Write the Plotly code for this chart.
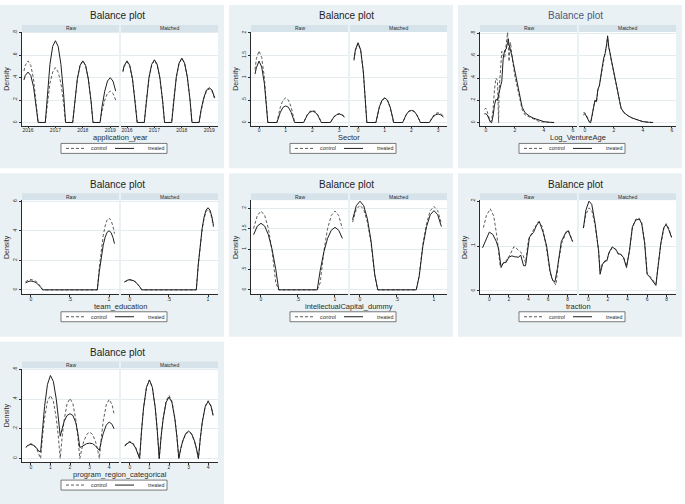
import plotly.graph_objects as go

W, H = 685, 504
FONT = "Liberation Sans, Arial, Helvetica, sans-serif"
PANEL_BG = "#EAF1F4"
STRIP_BG = "#D6E3EA"
GRID = "#E4ECF0"
INK = "#2b2b2b"

# ---------------- data ----------------
# application_year
year_x = [2015.85, 2015.9, 2016.0, 2016.1, 2016.2, 2016.3, 2016.37,
          2016.63, 2016.7, 2016.8, 2016.9, 2017.0, 2017.1, 2017.2, 2017.3, 2017.37,
          2017.63, 2017.7, 2017.8, 2017.9, 2018.0, 2018.1, 2018.2, 2018.3, 2018.37,
          2018.63, 2018.7, 2018.8, 2018.9, 2019.0, 2019.1, 2019.2]
year_raw_control = [.46, .51, .55, .51, .39, .19, 0, 0, .17, .35, .45, .49, .45, .35, .17, 0,
                    0, .19, .39, .51, .55, .51, .39, .19, 0, 0, .10, .20, .26, .28, .26, .20]
year_raw_treated = [.38, .42, .45, .42, .32, .15, 0, 0, .25, .52, .68, .73, .68, .52, .25, 0,
                    0, .19, .39, .51, .55, .51, .39, .19, 0, 0, .14, .28, .37, .40, .37, .28]
year_m_control = [.45, .50, .54, .50, .38, .19, 0, 0, .19, .39, .51, .555, .51, .39, .19, 0,
                  0, .20, .40, .53, .57, .53, .40, .20, 0, 0, .10, .21, .28, .30, .28, .21]
year_m_treated = [.46, .51, .55, .51, .39, .19, 0, 0, .19, .40, .52, .56, .52, .40, .19, 0,
                  0, .20, .41, .53, .575, .53, .41, .20, 0, 0, .11, .22, .29, .31, .29, .22]

# Sector
sector_x = [-0.15, -0.1, 0, 0.1, 0.2, 0.3, 0.33, 0.67, 0.7, 0.8, 0.9, 1.0, 1.1, 1.2, 1.3, 1.33,
            1.67, 1.7, 1.8, 1.9, 2.0, 2.1, 2.2, 2.3, 2.33, 2.67, 2.7, 2.8, 2.9, 3.0, 3.1, 3.2]
sector_raw_control = [1.18, 1.42, 1.6, 1.45, 1.01, .28, 0, 0, .10, .35, .50, .55, .50, .35, .10, 0,
                      0, .05, .17, .25, .27, .25, .17, .05, 0, 0, .03, .13, .18, .20, .18, .13]
sector_raw_treated = [1.08, 1.22, 1.37, 1.24, .87, .24, 0, 0, .06, .23, .34, .37, .34, .23, .06, 0,
                      0, .04, .16, .23, .25, .23, .16, .04, 0, 0, .03, .12, .17, .19, .17, .12]
sector_m_control = [1.38, 1.6, 1.76, 1.6, 1.11, .31, 0, 0, .09, .34, .49, .54, .49, .34, .09, 0,
                    0, .05, .17, .25, .27, .25, .17, .05, 0, 0, .04, .14, .20, .22, .20, .14]
sector_m_treated = [1.41, 1.62, 1.78, 1.62, 1.13, .31, 0, 0, .10, .35, .50, .55, .50, .35, .10, 0,
                    0, .05, .17, .25, .27, .25, .17, .05, 0, 0, .03, .12, .17, .19, .17, .12]

# Log_VentureAge
age_raw_treated_x = [-0.1, 0.0, 0.1, 0.2, 0.3, 0.4, 0.5, 0.6, 0.7, 0.8, 0.9, 1.0, 1.1, 1.2, 1.3, 1.4,
                     1.5, 1.55, 1.6, 1.7, 1.8, 1.9, 2.0, 2.1, 2.2, 2.3, 2.4, 2.5, 2.7, 3.0, 3.3,
                     3.6, 4.0, 4.4, 4.7]
age_raw_treated = [.08, .08, .07, .04, .01, 0, .06, .16, .21, .2, .28, .32, .37, .58, .65, .66,
                   .72, .75, .70, .66, .6, .53, .46, .4, .34, .27, .2, .14, .09, .06, .04,
                   .025, .01, .004, .002]
age_raw_control_x = [-0.1, 0.0, 0.1, 0.2, 0.3, 0.4, 0.5, 0.6, 0.7, 0.8, 0.85, 0.88, 0.92, 1.0, 1.1,
                     1.2, 1.3, 1.4, 1.5, 1.55, 1.6, 1.65, 1.7, 1.8, 1.9, 2.0, 2.1, 2.2, 2.3, 2.4,
                     2.5, 2.7, 3.0, 3.3, 3.6, 4.0, 4.4, 4.7]
age_raw_control = [.12, .13, .1, .05, .01, .02, .12, .3, .4, .38, .1, 0, .3, .42, .64,
                   .6, .58, .7, .81, .72, .55, .68, .72, .6, .5, .42, .36, .3, .23, .17,
                   .12, .07, .05, .03, .015, .005, .002, .001]
age_m_x = [-0.1, 0.0, 0.1, 0.2, 0.3, 0.4, 0.5, 0.6, 0.7, 0.8, 0.9, 1.0, 1.1, 1.2, 1.3, 1.4,
           1.5, 1.57, 1.65, 1.7, 1.8, 1.9, 2.0, 2.1, 2.2, 2.3, 2.4, 2.5, 2.7, 3.0, 3.3,
           3.6, 4.0, 4.4, 4.7]
age_m_treated = [.07, .08, .06, .03, .01, 0, .06, .15, .2, .19, .3, .33, .4, .5, .58, .62,
                 .7, .78, .68, .65, .58, .52, .47, .4, .33, .26, .19, .13, .09, .06, .04,
                 .025, .01, .004, .002]
age_m_control = [.09, .09, .07, .03, .01, 0, .05, .14, .2, .18, .29, .33, .41, .5, .57, .63,
                 .69, .76, .66, .66, .57, .51, .46, .39, .32, .25, .19, .13, .09, .06, .04,
                 .025, .01, .004, .002]

# team_education
edu_x = [-0.07, -0.05, -0.025, 0, 0.025, 0.05, 0.075, 0.1, 0.125, 0.15,
         0.85, 0.875, 0.9, 0.925, 0.95, 0.975, 1.0, 1.025, 1.05, 1.07]
edu_raw_control = [.55, .62, .68, .7, .68, .62, .53, .39, .21, 0,
                   0, 1.49, 2.7, 3.65, 4.32, 4.72, 4.86, 4.72, 4.32, 3.8]
edu_raw_treated = [.47, .53, .58, .6, .58, .53, .45, .33, .18, 0,
                   0, 1.22, 2.22, 3.0, 3.56, 3.89, 4.0, 3.89, 3.56, 3.13]
edu_m_control = [.53, .6, .66, .68, .66, .6, .51, .38, .21, 0,
                 0, 1.67, 3.03, 4.09, 4.84, 5.3, 5.45, 5.3, 4.84, 4.26]
edu_m_treated = [.54, .61, .67, .69, .67, .61, .52, .38, .21, 0,
                 0, 1.7, 3.09, 4.17, 4.94, 5.4, 5.56, 5.4, 4.94, 4.35]

# intellectualCapital_dummy
ic_x = [-0.1, -0.05, 0, 0.05, 0.1, 0.15, 0.2, 0.24, 0.76, 0.8, 0.85, 0.9, 0.95, 1.0, 1.05, 1.1]
ic_raw_control = [1.5, 1.82, 1.93, 1.82, 1.5, .95, .17, 0, 0, .17, .95, 1.5, 1.82, 1.93, 1.82, 1.5]
ic_raw_treated = [1.35, 1.56, 1.63, 1.56, 1.35, .99, .5, 0, 0, .47, .93, 1.26, 1.46, 1.53, 1.46, 1.26]
ic_m_control = [1.66, 1.97, 2.07, 1.97, 1.66, 1.14, .35, 0, 0, .35, 1.12, 1.63, 1.94, 2.04, 1.94, 1.63]
ic_m_treated = [1.72, 2.06, 2.17, 2.06, 1.74, 1.19, .37, 0, 0, .33, 1.07, 1.55, 1.84, 1.94, 1.84, 1.55]

# traction
tr_raw_control_x = [-0.6, -0.3, 0.1, 0.45, 0.8, 1.1, 1.4, 1.7, 2.05, 2.5, 2.6, 3.0, 3.4, 3.7, 4.0,
                    4.6, 5.0, 5.4, 5.8, 6.2, 6.5, 6.8, 7.05, 7.4, 7.9, 8.1, 8.5]
tr_raw_control = [.141, .168, .183, .167, .118, .056, .06, .067, .078, .098, .098, .089, .082, .063,
                  .115, .14, .154, .144, .1, .04, .022, .013, .063, .107, .133, .134, .11]
tr_raw_treated_x = [-0.69, -0.3, 0.0, 0.35, 0.7, 0.95, 1.2, 1.45, 1.7, 2.0, 2.3, 2.6, 3.0, 3.2, 3.5,
                    3.7, 4.1, 4.5, 4.8, 5.1, 5.5, 5.85, 6.2, 6.4, 6.6, 6.7, 6.95, 7.35, 7.8, 8.05, 8.5]
tr_raw_treated = [.096, .115, .131, .126, .111, .094, .052, .063, .063, .075, .078, .076, .075, .08,
                  .056, .056, .12, .13, .145, .155, .13, .1, .045, .027, .02, .02, .05, .11, .13,
                  .134, .11]
tr_m_x = [-0.5, -0.25, 0.07, 0.35, 0.7, 1.05, 1.2, 1.45, 1.7, 1.9, 2.1, 2.45, 2.8, 3.1, 3.3, 3.6,
          3.9, 4.2, 4.5, 4.85, 5.2, 5.45, 5.75, 6.0, 6.3, 6.65, 6.9, 7.1, 7.4, 7.7, 7.95, 8.2, 8.5]
tr_m_treated = [.14, .18, .2, .193, .15, .089, .037, .059, .067, .067, .085, .098, .092, .082, .082,
                .074, .052, .09, .143, .158, .16, .15, .106, .037, .03, .019, .012, .05, .106,
                .141, .148, .137, .119]
tr_m_control = [.14, .17, .185, .18, .145, .09, .045, .062, .065, .068, .083, .097, .093, .08, .081,
                .075, .055, .088, .14, .16, .162, .152, .11, .04, .032, .022, .015, .052, .104,
                .138, .15, .14, .12]

# program_region_categorical
reg_x = [-0.25, -0.15, 0, 0.15, 0.3, 0.4, 0.5, 0.6, 0.7, 0.85, 1.0, 1.15, 1.3, 1.4, 1.5,
         1.6, 1.7, 1.85, 2.0, 2.15, 2.3, 2.4, 2.5, 2.6, 2.7, 2.85, 3.0, 3.15, 3.3, 3.4, 3.5,
         3.6, 3.7, 3.85, 4.0, 4.15, 4.25]
reg_raw_control = [.075, .091, .1, .091, .064, .036, 0, .153, .272, .387, .425, .387, .272, .153, 0,
                   .146, .259, .369, .405, .369, .259, .146, 0, .064, .114, .162, .178, .162, .114,
                   .064, 0, .143, .255, .362, .398, .362, .3]
reg_raw_treated = [.075, .088, .095, .088, .07, .05, .045, .22, .35, .5, .56, .52, .4, .28, .15,
                   .2, .25, .29, .302, .29, .24, .17, .075, .08, .09, .1, .103, .1, .085, .07, .055,
                   .12, .17, .225, .246, .23, .2]
reg_m_treated = [.083, .1, .11, .1, .07, .04, 0, .19, .34, .48, .53, .48, .34, .19, 0,
                 .15, .266, .378, .415, .378, .266, .15, 0, .067, .118, .168, .185, .168, .118,
                 .067, 0, .139, .246, .35, .385, .35, .29]
reg_m_control = [.086, .105, .115, .105, .074, .041, 0, .19, .34, .48, .53, .48, .34, .19, 0,
                 .153, .272, .387, .425, .387, .272, .153, 0, .065, .115, .164, .18, .164, .115,
                 .065, 0, .14, .25, .355, .39, .355, .295]

PANELS = [
    dict(col=0, row=0, xtitle="application_year",
         raw=((year_x, year_raw_control), (year_x, year_raw_treated)),
         matched=((year_x, year_m_control), (year_x, year_m_treated)),
         xrange=[2015.78, 2019.32], xticks=[2016, 2017, 2018, 2019],
         xtext=["2016", "2017", "2018", "2019"],
         yrange=[-0.027, 0.809], yticks=[0, .2, .4, .6, .8], ytext=["0", ".2", ".4", ".6", ".8"]),
    dict(col=1, row=0, xtitle="Sector",
         raw=((sector_x, sector_raw_control), (sector_x, sector_raw_treated)),
         matched=((sector_x, sector_m_control), (sector_x, sector_m_treated)),
         xrange=[-0.3, 3.33], xticks=[0, 1, 2, 3], xtext=["0", "1", "2", "3"],
         yrange=[-0.067, 2.022], yticks=[0, .5, 1, 1.5, 2], ytext=["0", ".5", "1", "1.5", "2"]),
    dict(col=2, row=0, xtitle="Log_VentureAge", title_color="#4b5a7e",
         raw=((age_raw_control_x, age_raw_control), (age_raw_treated_x, age_raw_treated)),
         matched=((age_m_x, age_m_control), (age_m_x, age_m_treated)),
         xrange=[-0.4, 6.28], xticks=[0, 2, 4, 6], xtext=["0", "2", "4", "6"],
         yrange=[-0.025, 0.815], yticks=[0, .2, .4, .6, .8], ytext=["0", ".2", ".4", ".6", ".8"]),
    dict(col=0, row=1, xtitle="team_education",
         raw=((edu_x, edu_raw_control), (edu_x, edu_raw_treated)),
         matched=((edu_x, edu_m_control), (edu_x, edu_m_treated)),
         xrange=[-0.115, 1.128], xticks=[0, .5, 1], xtext=["0", ".5", "1"],
         yrange=[-0.27, 6.07], yticks=[0, 2, 4, 6], ytext=["0", "2", "4", "6"]),
    dict(col=1, row=1, xtitle="intellectualCapital_dummy",
         raw=((ic_x, ic_raw_control), (ic_x, ic_raw_treated)),
         matched=((ic_x, ic_m_control), (ic_x, ic_m_treated)),
         xrange=[-0.135, 1.176], xticks=[0, .5, 1], xtext=["0", ".5", "1"],
         yrange=[-0.098, 2.195], yticks=[0, .5, 1, 1.5, 2], ytext=["0", ".5", "1", "1.5", "2"]),
    dict(col=2, row=1, xtitle="traction",
         raw=((tr_raw_control_x, tr_raw_control), (tr_raw_treated_x, tr_raw_treated)),
         matched=((tr_m_x, tr_m_control), (tr_m_x, tr_m_treated)),
         xrange=[-0.95, 8.95], xticks=[0, 2, 4, 6, 8], xtext=["0", "2", "4", "6", "8"],
         yrange=[-0.0067, 0.2022], yticks=[0, .1, .2], ytext=["0", ".1", ".2"]),
    dict(col=0, row=2, xtitle="program_region_categorical",
         raw=((reg_x, reg_raw_control), (reg_x, reg_raw_treated)),
         matched=((reg_x, reg_m_control), (reg_x, reg_m_treated)),
         xrange=[-0.45, 4.5], xticks=[0, 1, 2, 3, 4], xtext=["0", "1", "2", "3", "4"],
         yrange=[-0.025, 0.607], yticks=[0, .2, .4, .6], ytext=["0", ".2", ".4", ".6"]),
]

COL_X = [0, 229, 458]
ROW_Y = [0, 169, 338]
FACETS = [("Raw", 22, 119), ("Matched", 121, 218)]
PLOT_TOP, PLOT_BOT = 30, 124


def fx(v):
    return v / W


def fy(v):
    return 1 - v / H


fig = go.Figure()
shapes = []
annotations = []
axes = {}


def rect(x0, y0, x1, y1, fill, line_color=None, line_width=0, layer="below"):
    shapes.append(dict(type="rect", xref="paper", yref="paper",
                       x0=fx(x0), x1=fx(x1), y0=fy(y1), y1=fy(y0),
                       fillcolor=fill, layer=layer,
                       line=dict(color=line_color or fill, width=line_width)))


def text(x, y, s, size, color=INK, anchor="center", angle=0):
    annotations.append(dict(xref="paper", yref="paper", x=fx(x), y=fy(y), text=s,
                            showarrow=False, xanchor=anchor, yanchor="middle",
                            textangle=angle, font=dict(size=size, color=color, family=FONT)))


for i, p in enumerate(PANELS):
    X0 = COL_X[p["col"]]
    Y0 = ROW_Y[p["row"]]

    rect(X0, Y0 + 3, X0 + 224, Y0 + 167, PANEL_BG)
    text(X0 + 117, Y0 + 14, "Balance plot", 10, p.get("title_color", "#1e1e1e"))
    text(X0 + 7, Y0 + 77, "Density", 7, angle=-90)
    text(X0 + 120, Y0 + 136.5, p["xtitle"], 7.5)

    for j, (label, xl, xr) in enumerate(FACETS):
        n = 2 * i + j + 1
        sfx = "" if n == 1 else str(n)
        rect(X0 + xl, Y0 + 23, X0 + xr, Y0 + PLOT_TOP, STRIP_BG)
        rect(X0 + xl, Y0 + PLOT_TOP, X0 + xr, Y0 + PLOT_BOT, "white")
        text(X0 + (xl + xr) / 2, Y0 + 26.5, label, 5)

        series = p["raw"] if j == 0 else p["matched"]
        (cx, cy), (tx, ty) = series
        fig.add_trace(go.Scatter(x=cx, y=cy, mode="lines", xaxis="x" + sfx, yaxis="y" + sfx,
                                 line=dict(color="#4a4a4a", width=0.9, dash="3px,2px"),
                                 showlegend=False, hoverinfo="skip"))
        fig.add_trace(go.Scatter(x=tx, y=ty, mode="lines", xaxis="x" + sfx, yaxis="y" + sfx,
                                 line=dict(color="#1f1f1f", width=1.0),
                                 showlegend=False, hoverinfo="skip"))

        axes["xaxis" + sfx] = dict(
            domain=[fx(X0 + xl), fx(X0 + xr)], range=p["xrange"], anchor="y" + sfx,
            showline=True, linecolor=INK, linewidth=0.8, ticks="outside", ticklen=2,
            tickwidth=0.7, tickcolor=INK, tickvals=p["xticks"], ticktext=p["xtext"],
            ticklabelstandoff=-2,
            tickfont=dict(size=5, color=INK, family=FONT), showgrid=False, zeroline=False,
            fixedrange=True)
        axes["yaxis" + sfx] = dict(
            domain=[fy(Y0 + PLOT_BOT), fy(Y0 + PLOT_TOP)], range=p["yrange"], anchor="x" + sfx,
            showline=(j == 0), linecolor=INK, linewidth=0.8,
            ticks="outside" if j == 0 else "", ticklen=2, tickwidth=0.7, tickcolor=INK,
            showticklabels=(j == 0), tickangle=-90, tickvals=p["yticks"], ticktext=p["ytext"],
            tickfont=dict(size=5, color=INK, family=FONT),
            showgrid=True, gridcolor=GRID, gridwidth=0.7, zeroline=False, fixedrange=True)

    # legend box
    rect(X0 + 61, Y0 + 142, X0 + 167, Y0 + 152, "white", "#444444", 0.7, layer="above")
    shapes.append(dict(type="line", xref="paper", yref="paper",
                       x0=fx(X0 + 66), x1=fx(X0 + 86), y0=fy(Y0 + 147), y1=fy(Y0 + 147),
                       line=dict(color="#4a4a4a", width=0.9, dash="3px,2px")))
    shapes.append(dict(type="line", xref="paper", yref="paper",
                       x0=fx(X0 + 115), x1=fx(X0 + 134), y0=fy(Y0 + 147), y1=fy(Y0 + 147),
                       line=dict(color="#1f1f1f", width=1.0)))
    text(X0 + 89, Y0 + 147, "control", 5.3, anchor="left")
    text(X0 + 146, Y0 + 147, "treated", 5.3, anchor="left")

fig.update_layout(
    width=W, height=H,
    margin=dict(l=0, r=0, t=0, b=0),
    paper_bgcolor="white",
    plot_bgcolor="rgba(0,0,0,0)",
    font=dict(family=FONT, color=INK),
    shapes=shapes,
    annotations=annotations,
    showlegend=False,
    **axes,
)

# page body has a default 8px margin; drop it so the figure sits at the window's corner
fig.write_html("out.html", config={"displayModeBar": False},
               post_script="document.body.style.margin='0';")
